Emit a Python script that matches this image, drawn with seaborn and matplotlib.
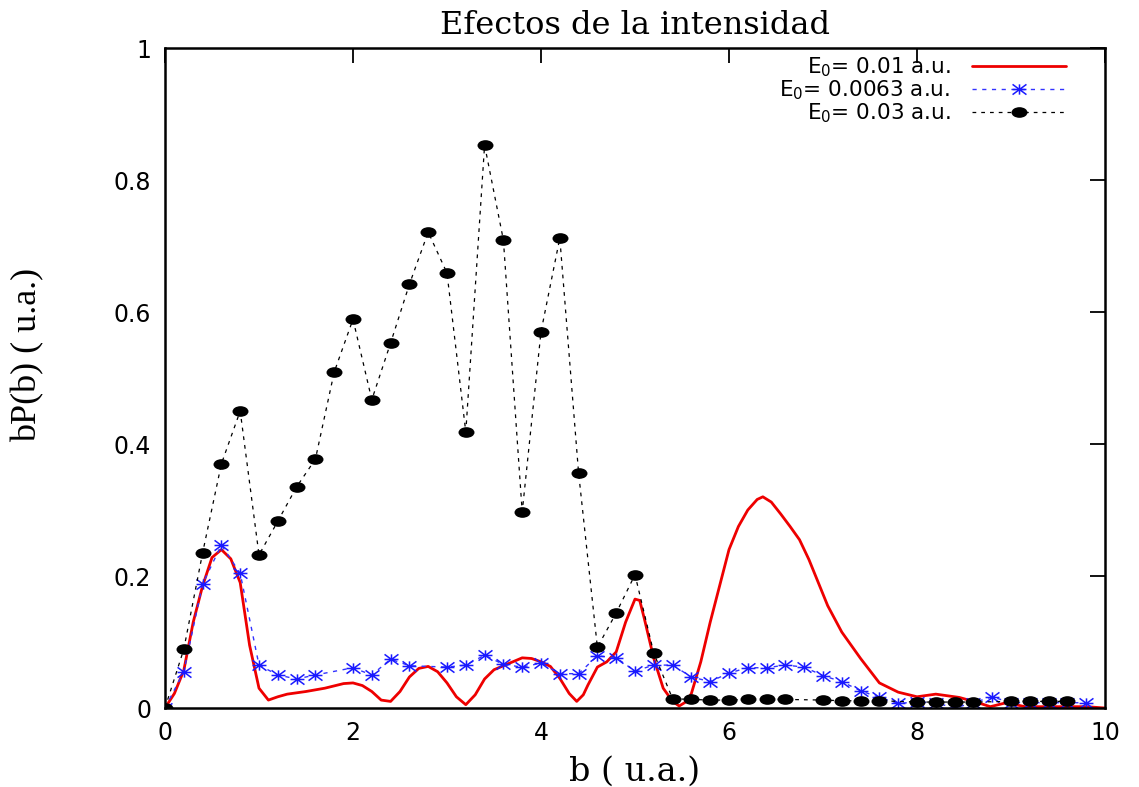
import numpy as np
import pandas as pd
import matplotlib
matplotlib.use("Agg")
import matplotlib.pyplot as plt
import seaborn as sns
from matplotlib.path import Path
from matplotlib.transforms import Affine2D

# ---------------- data ----------------
red_x = [0.0, 0.1, 0.2, 0.3, 0.4, 0.5, 0.6, 0.7, 0.8, 0.9, 1.0, 1.1, 1.2, 1.3, 1.5,
         1.7, 1.9, 2.0, 2.1, 2.2, 2.3, 2.4, 2.5, 2.6, 2.7, 2.8, 2.9, 3.0, 3.1, 3.2,
         3.3, 3.4, 3.5, 3.6, 3.7, 3.8, 3.9, 4.0, 4.1, 4.2, 4.3, 4.38, 4.45, 4.5, 4.6,
         4.7, 4.8, 4.9, 5.0, 5.05, 5.1, 5.2, 5.3, 5.4, 5.47, 5.55, 5.6, 5.7, 5.8, 5.9,
         6.0, 6.1, 6.2, 6.3, 6.36, 6.45, 6.55, 6.65, 6.75, 6.85, 6.95, 7.05, 7.2, 7.4,
         7.6, 7.8, 8.0, 8.2, 8.45, 8.65, 8.78, 8.95, 9.15, 9.5, 9.8, 10.0]
red_y = [0.0, 0.022, 0.057, 0.13, 0.185, 0.228, 0.240, 0.226, 0.190, 0.095, 0.030, 0.012,
         0.017, 0.021, 0.025, 0.030, 0.037, 0.038, 0.034, 0.025, 0.012, 0.010, 0.025,
         0.047, 0.060, 0.063, 0.055, 0.038, 0.017, 0.005, 0.020, 0.044, 0.058, 0.064,
         0.070, 0.076, 0.075, 0.070, 0.063, 0.045, 0.022, 0.010, 0.020, 0.035, 0.062,
         0.070, 0.085, 0.130, 0.165, 0.163, 0.135, 0.075, 0.030, 0.010, 0.003, 0.010,
         0.022, 0.070, 0.130, 0.185, 0.240, 0.275, 0.300, 0.316, 0.320, 0.312, 0.294,
         0.275, 0.255, 0.225, 0.190, 0.155, 0.115, 0.075, 0.038, 0.024, 0.017, 0.021,
         0.016, 0.008, 0.002, 0.008, 0.002, 0.002, 0.002, 0.0]

blue_x = [0.0, 0.2, 0.4, 0.6, 0.8, 1.0, 1.2, 1.4, 1.6, 2.0, 2.2, 2.4, 2.6, 3.0, 3.2,
          3.4, 3.6, 3.8, 4.0, 4.2, 4.4, 4.6, 4.8, 5.0, 5.2, 5.4, 5.6, 5.8, 6.0, 6.2,
          6.4, 6.6, 6.8, 7.0, 7.2, 7.4, 7.6, 7.8, 8.0, 8.2, 8.4, 8.6, 8.8, 9.0, 9.2,
          9.4, 9.6, 9.8]
blue_y = [0.0, 0.055, 0.188, 0.247, 0.204, 0.065, 0.050, 0.044, 0.050, 0.061, 0.050,
          0.074, 0.064, 0.062, 0.065, 0.080, 0.066, 0.062, 0.068, 0.052, 0.052, 0.079,
          0.076, 0.056, 0.065, 0.065, 0.047, 0.040, 0.053, 0.061, 0.061, 0.065, 0.062,
          0.049, 0.040, 0.026, 0.016, 0.007, 0.009, 0.008, 0.0, 0.008, 0.017, 0.008,
          0.008, 0.008, 0.008, 0.008]

black_x = [0.0, 0.2, 0.4, 0.6, 0.8, 1.0, 1.2, 1.4, 1.6, 1.8, 2.0, 2.2, 2.4, 2.6, 2.8,
           3.0, 3.2, 3.4, 3.6, 3.8, 4.0, 4.2, 4.4, 4.6, 4.8, 5.0, 5.2, 5.4, 5.6, 5.8,
           6.0, 6.2, 6.4, 6.6, 7.0, 7.2, 7.4, 7.6, 8.0, 8.2, 8.4, 8.6, 9.0, 9.2, 9.4, 9.6]
black_y = [0.0, 0.089, 0.235, 0.370, 0.450, 0.232, 0.283, 0.335, 0.377, 0.509, 0.589,
           0.467, 0.553, 0.642, 0.721, 0.659, 0.418, 0.853, 0.709, 0.297, 0.570, 0.712,
           0.356, 0.092, 0.144, 0.202, 0.083, 0.014, 0.013, 0.012, 0.012, 0.013, 0.013,
           0.013, 0.012, 0.011, 0.011, 0.011, 0.009, 0.009, 0.009, 0.009, 0.010, 0.010,
           0.010, 0.010]

labels = [r"E$_{\mathrm{0}}$= 0.01 a.u.", r"E$_{\mathrm{0}}$= 0.0063 a.u.", r"E$_{\mathrm{0}}$= 0.03 a.u."]
x_ticks = [0, 2, 4, 6, 8, 10]
y_ticks = [0, 0.2, 0.4, 0.6, 0.8, 1.0]
y_ticklabels = ["0", "0.2", "0.4", "0.6", "0.8", "1"]

# ---------------- style ----------------
sns.set_theme(style="white")
plt.rcParams.update({
    "font.family": ["DejaVu Sans"],
    "mathtext.fontset": "dejavusans",
    "xtick.direction": "in",
    "ytick.direction": "in",
    "xtick.top": True,
    "ytick.right": True,
    "axes.edgecolor": "black",
    "axes.linewidth": 1.8,
})

fig = plt.figure(figsize=(11.39, 7.87), dpi=100)
ax = fig.add_axes([165 / 1139, 1 - 708 / 787, (1105 - 165) / 1139, (708 - 48) / 787])

# custom markers
ellipse = Path.unit_circle().transformed(Affine2D().scale(1.5, 1.0))
star_verts = [(-1.35, 0), (1.35, 0), (0, -1), (0, 1), (-1.35, -1), (1.35, 1), (-1.35, 1), (1.35, -1)]
star_codes = [Path.MOVETO, Path.LINETO] * 4
star = Path(star_verts, star_codes)

df_red = pd.DataFrame({"b": red_x, "bP": red_y})
df_blue = pd.DataFrame({"b": blue_x, "bP": blue_y})
df_black = pd.DataFrame({"b": black_x, "bP": black_y})

sns.lineplot(data=df_red, x="b", y="bP", ax=ax, color="#ee0000", lw=2.0,
             estimator=None, sort=False, label=labels[0])
sns.lineplot(data=df_blue, x="b", y="bP", ax=ax, color="#3333ff", lw=1.0,
             linestyle=(0, (3, 4)), estimator=None, sort=False,
             marker=star, markersize=10, markeredgewidth=1.1,
             markeredgecolor="#1a1aff", markerfacecolor="none", label=labels[1])
sns.lineplot(data=df_black, x="b", y="bP", ax=ax, color="black", lw=0.9,
             linestyle=(0, (3, 4)), estimator=None, sort=False,
             marker=ellipse, markersize=11.5, markeredgewidth=0,
             markerfacecolor="black", markeredgecolor="black", label=labels[2])

ax.set_xlim(0, 10)
ax.set_ylim(0, 1)
ax.set_xticks(x_ticks)
ax.set_xticklabels([str(t) for t in x_ticks])
ax.set_yticks(y_ticks)
ax.set_yticklabels(y_ticklabels)
ax.tick_params(axis="both", which="major", length=11, width=1.3, colors="black",
               labelsize=17, labelcolor="black")
ax.tick_params(axis="x", pad=9)
ax.tick_params(axis="y", pad=10)

ax.set_title("Efectos de la intensidad", family="DejaVu Serif", fontsize=23,
             color="black", pad=10)
ax.set_xlabel("b ( u.a.)", family="DejaVu Serif", fontsize=24, color="black")
ax.set_ylabel("bP(b) ( u.a.)", family="Liberation Serif", fontsize=26, color="black")
ax.xaxis.set_label_coords(0.5, -0.072)
ax.yaxis.set_label_coords(-0.128, 0.535)

leg = ax.legend(loc="upper right", bbox_to_anchor=(0.975, 1.012), frameon=False,
                markerfirst=False, fontsize=15.5, handlelength=4.4, handletextpad=1.0,
                labelspacing=-0.02, borderpad=0.2)
for t in leg.get_texts():
    t.set_ha("right")
    t.set_color("black")

fig.savefig("out.png", dpi=100, facecolor="white")
